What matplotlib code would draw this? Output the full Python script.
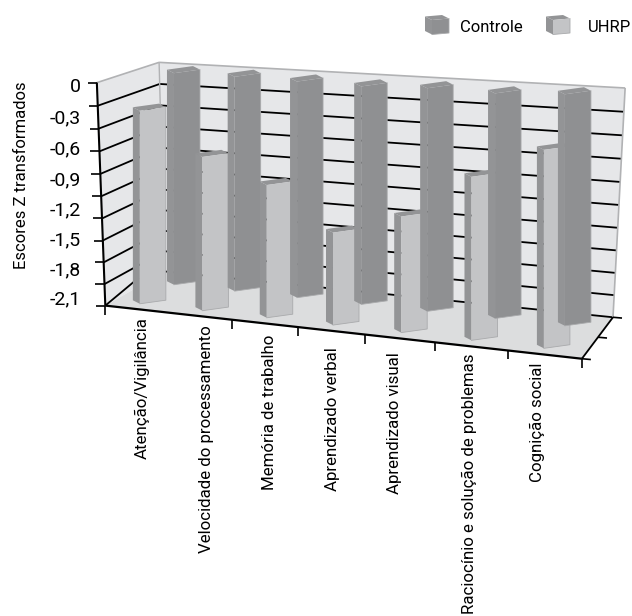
import matplotlib

matplotlib.use('Agg')
import matplotlib.pyplot as plt
import numpy as np
from matplotlib.patches import Polygon

plt.rcParams['font.family'] = ['Roboto', 'DejaVu Sans']

categories = ['Atenção/Vigilância', 'Velocidade do processamento', 'Memória de trabalho',
              'Aprendizado verbal', 'Aprendizado visual',
              'Raciocínio e solução de problemas', 'Cognição social']
controle = [-0.03, -0.03, -0.04, -0.05, -0.03, -0.04, -0.01]
uhrp = [-0.28, -0.68, -0.90, -1.30, -1.09, -0.67, -0.38]
z_labels = ['0', '-0,3', '-0,6', '-0,9', '-1,2', '-1,5', '-1,8', '-2,1']
z_label_vals = [0, -0.3, -0.6, -0.9, -1.2, -1.5, -1.8, -2.1]
z_min = -2.2
z_ticks = np.linspace(0, z_min, 11)

WALL = '#e6e7e9'
FLOOR = '#dcddde'
EDGE = '#b1b2b4'
DARK = '#8f9092'
DARK_SIDE = '#939496'
LIGHT = '#c3c4c6'
LIGHT_EDGE = '#a9aaac'
n = len(categories)

# where the rotated category labels sit in the original, it is not regular
LABEL_X = [142, 207, 269, 332, 395, 469, 537]
LABEL_TOP = [317, 325, 335, 347, 352, 353, 363]

# corners of the chart box: (x, depth, z) -> pixel
corners = [((0, 0, z_min), (106, 305)), ((n, 0, z_min), (582, 359)),
           ((0, 1, z_min), (164, 272)), ((n, 1, z_min), (613, 317)),
           ((0, 0, 0), (96, 83)), ((0, 1, 0), (160, 62)), ((n, 1, 0), (625, 88))]


def fit_camera(pts):
    rows = []
    for (x, y, z), (u, v) in pts:
        rows.append([x, y, z, 1, 0, 0, 0, 0, -u * x, -u * y, -u * z, -u])
        rows.append([0, 0, 0, 0, x, y, z, 1, -v * x, -v * y, -v * z, -v])
    return np.linalg.svd(np.array(rows, dtype=float))[2][-1].reshape(3, 4)


CAM = fit_camera(corners)


def proj(x, y, z):
    p = CAM @ np.array([x, y, z, 1.0])
    return p[0] / p[2], p[1] / p[2]


fig = plt.figure(figsize=(6.32, 6.16), dpi=100)
ax = fig.add_axes([0, 0, 1, 1])
ax.set_xlim(0, 632)
ax.set_ylim(616, 0)
ax.axis('off')


def line(a, b, color='black', lw=1.3, zo=2):
    ax.plot([a[0], b[0]], [a[1], b[1]], color=color, lw=lw, zorder=zo, solid_capstyle='butt')


# walls and floor
ax.add_patch(Polygon([proj(0, 0, 0), proj(0, 1, 0), proj(0, 1, z_min), proj(0, 0, z_min)], fc=WALL, ec='none', zorder=1))
ax.add_patch(Polygon([proj(0, 1, 0), proj(n, 1, 0), proj(n, 1, z_min), proj(0, 1, z_min)], fc=WALL, ec='none', zorder=1))
ax.add_patch(Polygon([proj(0, 0, z_min), proj(n, 0, z_min), proj(n, 1, z_min), proj(0, 1, z_min)], fc=FLOOR, ec='none', zorder=1))

for z in z_ticks[1:-1]:
    line(proj(0, 0, z), proj(0, 1, z))
    line(proj(0, 1, z), proj(n, 1, z))
line(proj(0, 1, z_min), proj(n, 1, z_min))

# wall outline
line(proj(0, 0, 0), proj(0, 1, 0), EDGE, 1.2)
line(proj(0, 1, 0), proj(n, 1, 0), EDGE, 1.2)
line(proj(n, 1, 0), proj(n, 1, z_min), EDGE, 1.2)
line(proj(0, 1, 0), proj(0, 1, z_min), EDGE, 1.0)

# axes and ticks
line(proj(0, 0, 0), proj(0, 0, z_min), lw=1.5, zo=3)
line(proj(0, 0, z_min), proj(n, 0, z_min), lw=1.6, zo=3)
line(proj(0, 0, z_min), proj(0, 0.55, z_min + 0.09), lw=1.3, zo=3)  # steeper than the grid, as in the original
line(proj(n, 0, z_min), proj(n, 1, z_min), lw=1.3, zo=3)
for z in z_ticks:
    u, v = proj(0, 0, z)
    line((u - 9, v), (u, v), lw=1.2, zo=3)
for i in range(n + 1):
    u, v = proj(i, 0, z_min)
    if i != 1:
        line((u, v), (u, v + 9), lw=1.2, zo=3)
for d in [0, 0.5, 1]:
    u, v = proj(n, d, z_min)
    line((u, v), (u + 9, v + 0.8), lw=1.2, zo=3)

for lab, val in zip(z_labels, z_label_vals):
    ax.text(81, proj(0, 0, val)[1] + 4, lab, ha='right', va='center', fontsize=14)

ax.text(22, 175, 'Escores Z transformados', rotation=90, ha='center', va='center', fontsize=12)


def box(x0, y0, top, face, side, w=26, rise=3.6, dx=7, dy=3.5, zo=5):
    # fake oblique block, the side always falls on the left like the original
    bl = (x0, y0)
    br = (x0 + w, y0 - rise)
    tl = (x0, top)
    tr = (x0 + w, top - rise)
    ax.add_patch(Polygon([bl, tl, (x0 - dx, top - dy), (x0 - dx, y0 - dy)], fc=side, ec='none', zorder=zo))
    ax.add_patch(Polygon([tl, tr, (x0 + w - dx, top - rise - dy), (x0 - dx, top - dy)], fc=side, ec='none', zorder=zo))
    ax.add_patch(Polygon([bl, br, tr, tl], fc=face, ec='none', zorder=zo))
    ax.plot([x0, x0 + w, x0 + w], [y0, y0 - rise, top - rise], color=LIGHT_EDGE, lw=0.6, zorder=zo)


# bars, front series first inside each category
for i in range(n):
    x0, y0 = proj(i + 0.43, 0.13, z_min)
    box(x0, y0, proj(i + 0.43, 0.13, uhrp[i])[1], LIGHT, DARK_SIDE, zo=5 + 2 * i)
    x0, y0 = proj(i + 0.46, 0.68, z_min)
    box(x0, y0, proj(i + 0.46, 0.68, controle[i])[1], DARK, DARK_SIDE, zo=6 + 2 * i)

for lab, u, v in zip(categories, LABEL_X, LABEL_TOP):
    ax.text(u, v, lab, rotation=90, ha='center', va='top', fontsize=12.2)

# legend
box(432, 34.5, 20, DARK, DARK_SIDE, w=17, rise=1.5, dx=7, dy=3.5, zo=30)
box(553, 34.5, 20, LIGHT, DARK_SIDE, w=17, rise=1.5, dx=7, dy=3.5, zo=30)
ax.text(460, 27, 'Controle', ha='left', va='center', fontsize=12)
ax.text(588, 27, 'UHRP', ha='left', va='center', fontsize=12)

fig.savefig('out.png', dpi=100)
